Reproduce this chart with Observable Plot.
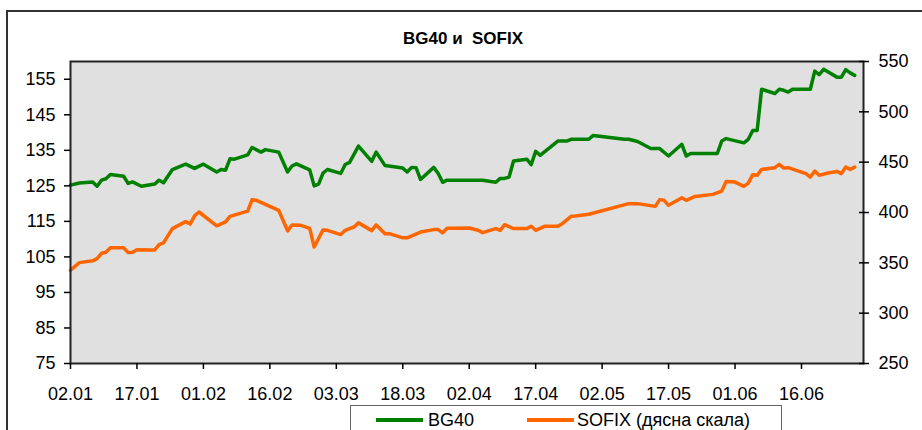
<!DOCTYPE html>
<html>
<head>
<meta charset="utf-8">
<script src="https://cdn.jsdelivr.net/npm/d3@7"></script>
<script src="https://cdn.jsdelivr.net/npm/@observablehq/plot@0.6"></script>
<style>
  html, body { margin: 0; padding: 0; background: #fff; }
  #wrap { position: relative; width: 922px; height: 430px; overflow: hidden; background: #fff;
          font-family: "Liberation Sans", Arial, sans-serif; }
  #outer { position: absolute; left: 6px; top: 10px; width: 1000px; height: 1000px; border: 2px solid #333; }
  #title { position: absolute; left: 403px; top: 30px; font-size: 17px; font-weight: bold; line-height: 17px;
           white-space: pre; color: #000; }
  #chart { position: absolute; left: 0; top: 0; }
  #legend { position: absolute; left: 350px; top: 405px; width: 432px; height: 60px; background: #fff;
            border: 1.5px solid #666; box-sizing: border-box; }
  .sw { position: absolute; top: 12px; height: 4px; width: 47px; }
  .lt { position: absolute; top: 4px; font-size: 18px; line-height: 20px; color: #000; white-space: pre; }
</style>
</head>
<body>
<div id="wrap">
  <div id="outer"></div>
  <div id="title">BG40 и  SOFIX</div>
  <div id="chart"></div>
  <div id="legend">
    <div class="sw" style="left:25px;background:#008000"></div>
    <div class="lt" style="left:77px">BG40</div>
    <div class="sw" style="left:176px;background:#ff6600"></div>
    <div class="lt" style="left:226px">SOFIX (дясна скала)</div>
  </div>
</div>
<script>
// ---- data (dates are DD.MM, year 2003) ----
const bgDates = ["02.01","04.01","07.01","08.01","09.01","10.01","11.01","14.01","15.01","16.01","18.01","21.01","22.01","23.01","25.01","28.01","30.01","01.02","04.02","05.02","06.02","07.02","08.02","11.02","12.02","14.02","15.02","18.02","20.02","21.02","22.02","25.02","26.02","27.02","28.02","01.03","04.03","05.03","06.03","08.03","11.03","12.03","14.03","18.03","19.03","20.03","21.03","22.03","25.03","26.03","27.03","28.03","05.04","08.04","09.04","10.04","11.04","12.04","15.04","16.04","17.04","18.04","22.04","24.04","25.04","29.04","30.04","07.05","08.05","10.05","13.05","15.05","17.05","20.05","21.05","22.05","28.05","29.05","30.05","03.06","04.06","05.06","06.06","07.06","10.06","11.06","12.06","13.06","14.06","18.06","19.06","20.06","21.06","24.06","25.06","26.06","27.06","28.06"];
const bgValues = [125.2,125.8,126.1,124.9,126.6,127.0,128.2,127.7,125.7,126.1,124.9,125.5,126.6,125.9,129.6,131.1,129.9,131.1,128.9,129.6,129.4,132.6,132.5,133.7,135.8,134.5,135.2,134.5,128.9,130.6,131.2,129.5,125.0,125.5,128.6,129.6,128.5,131.0,131.6,136.2,131.9,134.5,130.7,130.0,128.9,130.2,130.1,126.8,130.2,128.5,126.0,126.6,126.6,126.0,127.1,127.1,127.5,132.0,132.5,131.0,134.7,133.6,137.6,137.6,138.1,138.1,139.2,138.1,138.1,137.5,135.5,135.5,133.4,136.7,133.4,134.1,134.1,137.6,138.3,137.1,138.1,140.6,140.6,152.2,151.0,152.2,151.9,151.4,152.2,152.2,157.3,156.3,157.8,155.6,155.6,157.7,156.8,156.1];

const sofixDates = ["02.01","04.01","07.01","08.01","09.01","10.01","11.01","14.01","15.01","16.01","17.01","21.01","22.01","23.01","25.01","28.01","29.01","30.01","31.01","04.02","06.02","07.02","11.02","12.02","13.02","18.02","20.02","21.02","23.02","25.02","26.02","28.02","01.03","04.03","05.03","06.03","07.03","08.03","11.03","12.03","14.03","15.03","18.03","19.03","22.03","25.03","26.03","27.03","28.03","02.04","04.04","05.04","08.04","09.04","10.04","12.04","15.04","16.04","17.04","19.04","22.04","23.04","25.04","26.04","29.04","08.05","10.05","14.05","15.05","16.05","17.05","20.05","21.05","23.05","27.05","29.05","30.05","01.06","03.06","04.06","05.06","06.06","07.06","10.06","11.06","12.06","13.06","17.06","18.06","19.06","20.06","22.06","24.06","25.06","26.06","27.06","28.06"];
const sofixValues = [342.6,350.2,352.0,354.2,359.5,360.5,364.9,364.9,360.2,360.5,363.1,362.8,368.1,369.9,384.0,390.9,388.5,396.7,400.5,386.8,390.7,396.2,401.4,412.8,412.1,402.1,381.8,387.6,387.3,384.3,365.7,382.7,382.3,378.1,382.3,384.0,385.6,389.7,382.0,387.7,379.0,379.0,374.8,374.8,380.6,383.0,383.0,379.8,384.3,384.6,382.3,380.0,384.0,382.3,387.9,384.0,384.0,386.3,382.3,386.3,386.3,388.9,396.2,396.5,398.2,408.8,408.8,406.1,412.8,412.1,407.1,414.7,412.1,416.0,418.0,421.3,430.9,430.2,426.0,429.2,437.6,436.9,442.8,444.5,447.8,444.1,444.5,438.6,435.2,441.1,436.9,439.2,440.8,438.6,445.1,442.8,445.1];

const xTickLabels = ["02.01","17.01","01.02","16.02","03.03","18.03","02.04","17.04","02.05","17.05","01.06","16.06"];
const leftTicks = [75, 85, 95, 105, 115, 125, 135, 145, 155];
const rightTicks = [250, 300, 350, 400, 450, 500, 550];
const leftDomain = [75, 160];
const rightDomain = [250, 550];
const xDomainLabels = ["02.01", "30.06"];
const year = "2003";

// ---- build ----
const parse = d3.utcParse("%d.%m.%Y");
const toDate = s => parse(s + "." + year);
const bg = bgDates.map((d, i) => ({date: toDate(d), value: bgValues[i]}));
const sofix = sofixDates.map((d, i) => ({date: toDate(d), value: sofixValues[i]}));

// map right-axis values onto the left scale
const toLeft = v => leftDomain[0] + (v - rightDomain[0]) * (leftDomain[1] - leftDomain[0]) / (rightDomain[1] - rightDomain[0]);
const toRight = v => rightDomain[0] + (v - leftDomain[0]) * (rightDomain[1] - rightDomain[0]) / (leftDomain[1] - leftDomain[0]);

const chart = Plot.plot({
  width: 922,
  height: 430,
  marginLeft: 70,
  marginRight: 59,
  marginTop: 61,
  marginBottom: 67,
  style: {background: "transparent", fontFamily: "'Liberation Sans', Arial, sans-serif", fontSize: "18px", color: "#000"},
  x: {type: "utc", domain: xDomainLabels.map(toDate)},
  y: {domain: leftDomain},
  marks: [
    Plot.frame({fill: "#e0e0e0", stroke: null}),
    Plot.line(bg, {x: "date", y: "value", stroke: "#008000", strokeWidth: 3.5, strokeLinejoin: "round", strokeLinecap: "round"}),
    Plot.line(sofix, {x: "date", y: d => toLeft(d.value), stroke: "#ff6600", strokeWidth: 3.5, strokeLinejoin: "round", strokeLinecap: "round"}),
    Plot.frame({stroke: "#222", strokeWidth: 2}),
    Plot.axisX({ticks: xTickLabels.map(toDate), tickFormat: d3.utcFormat("%d.%m"), tickSize: 6, tickPadding: 18, label: null, stroke: "#000", strokeWidth: 1.5}),
    Plot.axisY({anchor: "left", ticks: leftTicks, tickSize: 6, tickPadding: 9, label: null, stroke: "#000", strokeWidth: 1.5}),
    Plot.axisY({anchor: "right", ticks: rightTicks.map(toLeft), tickFormat: d => Math.round(toRight(d)), tickSize: 10, dx: -5, tickPadding: 10, label: null, stroke: "#000", strokeWidth: 1.5})
  ]
});
document.getElementById("chart").appendChild(chart);
</script>
</body>
</html>
